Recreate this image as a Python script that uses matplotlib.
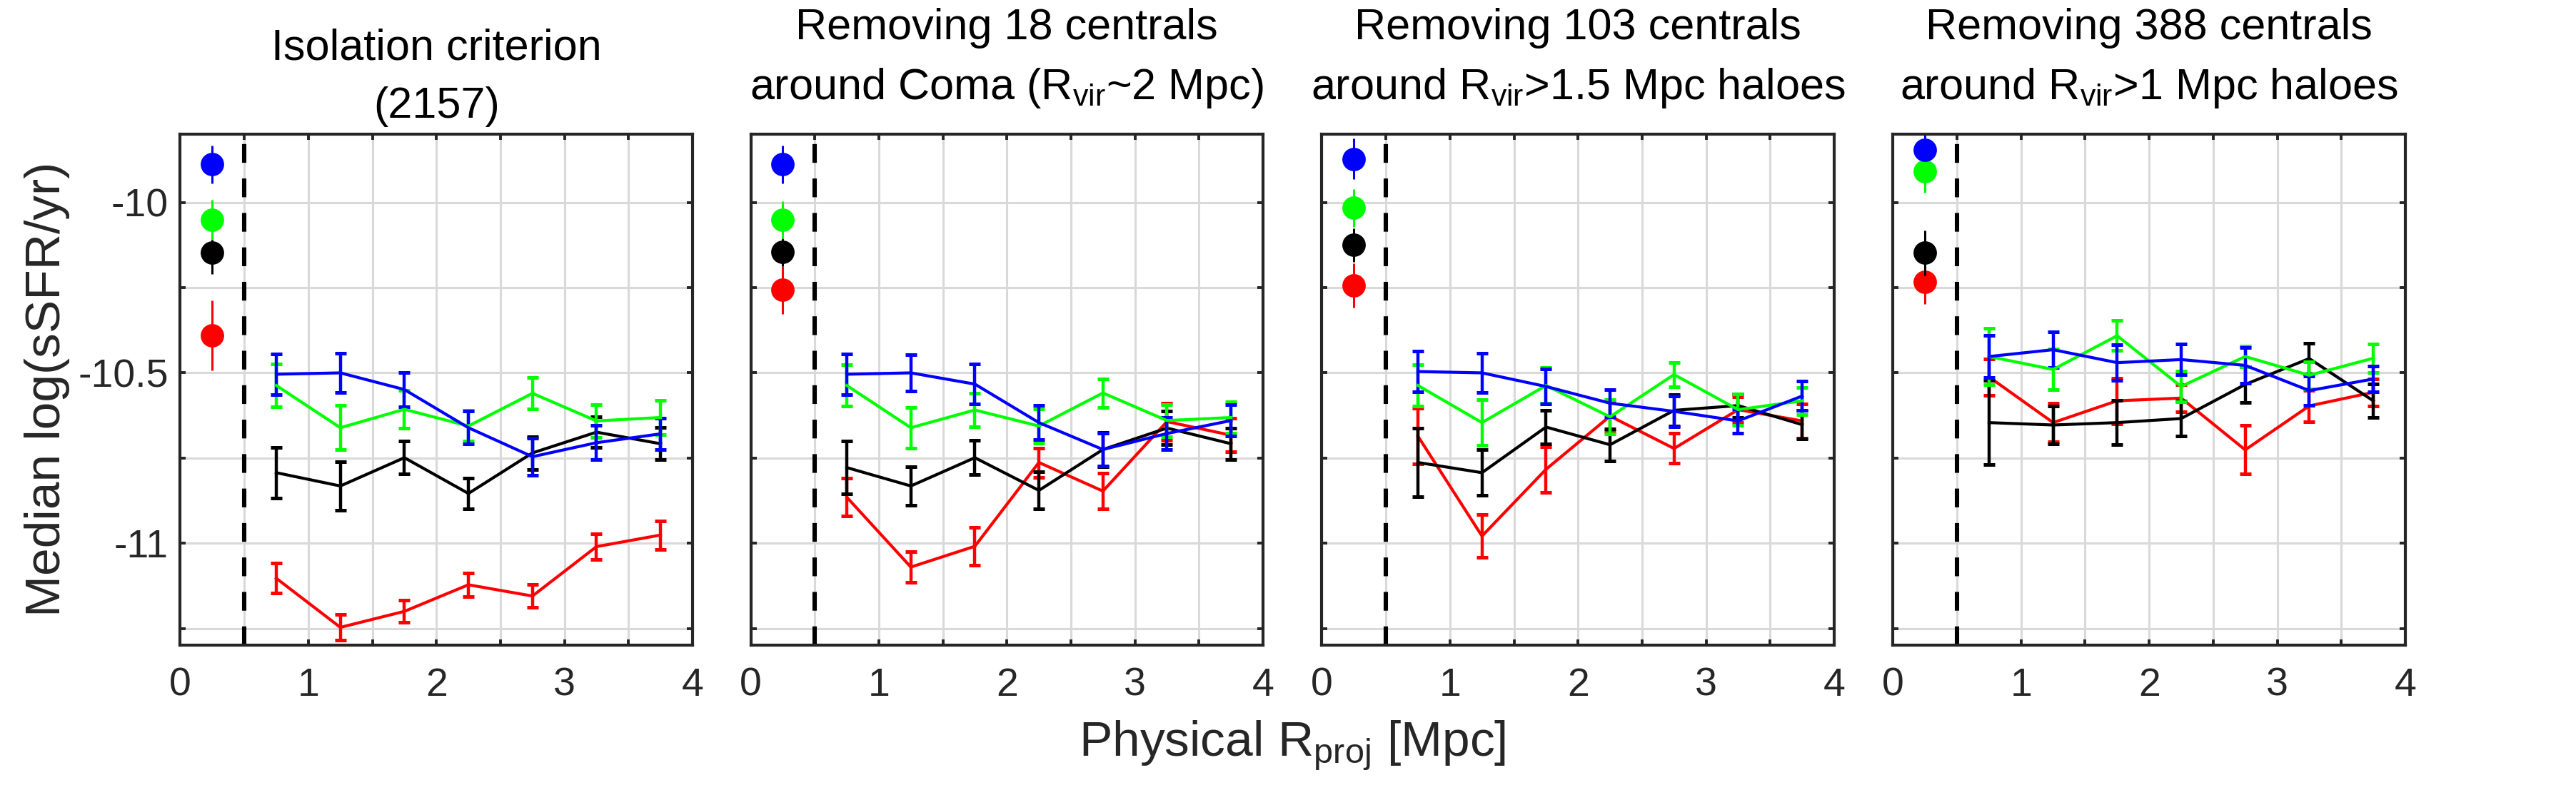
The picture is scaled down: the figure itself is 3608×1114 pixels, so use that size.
import numpy as np
import matplotlib
matplotlib.use("Agg")
import matplotlib.pyplot as plt
from matplotlib.ticker import FixedLocator, FuncFormatter

plt.rcParams['font.family'] = ['Liberation Sans', 'DejaVu Sans']
plt.rcParams['mathtext.fontset'] = 'custom'
plt.rcParams['mathtext.rm'] = 'Liberation Sans'
plt.rcParams['mathtext.it'] = 'Liberation Sans:italic'
plt.rcParams['axes.unicode_minus'] = False

# radial bins (Mpc) and the single point for the central galaxy
r_bins = [0.75, 1.25, 1.75, 2.25, 2.75, 3.25, 3.75]
r_central = 0.25
r_cut = 0.5

colours = ['red', 'black', '#00ff00', 'blue']
series = ['red', 'black', 'green', 'blue']

titles = [
    ("Isolation criterion", "(2157)"),
    ("Removing 18 centrals", r"around Coma (R$_{\mathrm{vir}}$~2 Mpc)"),
    ("Removing 103 centrals", r"around R$_{\mathrm{vir}}$>1.5 Mpc haloes"),
    ("Removing 388 centrals", r"around R$_{\mathrm{vir}}$>1 Mpc haloes"),
]

# central point value / error per panel, keyed by series
central_y = {
    'blue':  [-9.888, -9.888, -9.872, -9.846],
    'green': [-10.051, -10.051, -10.016, -9.908],
    'black': [-10.148, -10.146, -10.125, -10.148],
    'red':   [-10.390, -10.257, -10.244, -10.232],
}
central_err = {
    'blue':  [0.056, 0.055, 0.06, 0.047],
    'green': [0.059, 0.055, 0.055, 0.063],
    'black': [0.061, 0.04, 0.05, 0.066],
    'red':   [0.102, 0.07, 0.065, 0.066],
}

# satellite medians per panel
med_p1 = {
    'blue':  [-10.504, -10.500, -10.549, -10.661, -10.746, -10.705, -10.679],
    'green': [-10.537, -10.661, -10.607, -10.656, -10.560, -10.641, -10.631],
    'black': [-10.793, -10.832, -10.749, -10.854, -10.735, -10.674, -10.708],
    'red':   [-11.103, -11.247, -11.200, -11.122, -11.155, -11.010, -10.976],
}
err_p1 = {
    'blue':  [0.06, 0.057, 0.05, 0.048, 0.054, 0.05, 0.046],
    'green': [0.063, 0.065, 0.055, 0.045, 0.046, 0.048, 0.05],
    'black': [0.074, 0.072, 0.048, 0.046, 0.048, 0.045, 0.047],
    'red':   [0.044, 0.037, 0.032, 0.035, 0.034, 0.037, 0.042],
}
med_p2 = {
    'blue':  [-10.504, -10.500, -10.533, -10.646, -10.725, -10.678, -10.640],
    'green': [-10.537, -10.661, -10.609, -10.656, -10.559, -10.640, -10.631],
    'black': [-10.778, -10.832, -10.749, -10.845, -10.725, -10.662, -10.708],
    'red':   [-10.865, -11.070, -11.009, -10.763, -10.847, -10.643, -10.683],
}
err_p2 = {
    'blue':  [0.06, 0.054, 0.059, 0.05, 0.048, 0.047, 0.046],
    'green': [0.06, 0.06, 0.05, 0.05, 0.042, 0.047, 0.046],
    'black': [0.078, 0.056, 0.05, 0.054, 0.05, 0.049, 0.046],
    'red':   [0.056, 0.045, 0.055, 0.043, 0.052, 0.054, 0.049],
}
med_p3 = {
    'blue':  [-10.496, -10.500, -10.540, -10.589, -10.613, -10.641, -10.568],
    'green': [-10.537, -10.646, -10.537, -10.629, -10.505, -10.608, -10.582],
    'black': [-10.763, -10.793, -10.659, -10.711, -10.610, -10.596, -10.652],
    'red':   [-10.686, -10.979, -10.783, -10.627, -10.722, -10.608, -10.641],
}
err_p3 = {
    'blue':  [0.06, 0.057, 0.051, 0.04, 0.045, 0.036, 0.043],
    'green': [0.06, 0.067, 0.052, 0.05, 0.035, 0.046, 0.04],
    'black': [0.1, 0.067, 0.05, 0.047, 0.047, 0.035, 0.042],
    'red':   [0.082, 0.063, 0.067, 0.045, 0.044, 0.038, 0.05],
}
med_p4 = {
    'blue':  [-10.452, -10.432, -10.470, -10.461, -10.478, -10.552, -10.518],
    'green': [-10.452, -10.490, -10.391, -10.540, -10.452, -10.507, -10.457],
    'black': [-10.646, -10.653, -10.646, -10.634, -10.534, -10.458, -10.582],
    'red':   [-10.512, -10.646, -10.582, -10.574, -10.726, -10.597, -10.557],
}
err_p4 = {
    'blue':  [0.062, 0.052, 0.052, 0.045, 0.052, 0.043, 0.037],
    'green': [0.083, 0.06, 0.044, 0.045, 0.03, 0.04, 0.041],
    'black': [0.124, 0.056, 0.065, 0.052, 0.052, 0.045, 0.05],
    'red':   [0.053, 0.057, 0.067, 0.04, 0.071, 0.046, 0.04],
}
medians = [med_p1, med_p2, med_p3, med_p4]
errors = [err_p1, err_p2, err_p3, err_p4]

fig = plt.figure(figsize=(18.04, 5.57), dpi=200)
lefts = [0.06998, 0.29144, 0.51316, 0.73487]
axw, axb, axh = 0.19886, 0.18815, 0.64282
axcol = '#262626'

def xfmt(v, pos):
    return '%d' % round(v) if abs(v - round(v)) < 1e-6 else ''

def yfmt(v, pos):
    return '%g' % v if abs(v * 2 - round(v * 2)) < 1e-6 else ''

for i in range(4):
    ax = fig.add_axes([lefts[i], axb, axw, axh])
    ax.set_xlim(0, 4)
    ax.set_ylim(-11.3, -9.8)
    ax.xaxis.set_major_locator(FixedLocator(np.arange(0, 4.01, 0.5)))
    ax.yaxis.set_major_locator(FixedLocator(np.arange(-11.25, -9.99, 0.25)))
    ax.xaxis.set_major_formatter(FuncFormatter(xfmt))
    if i == 0:
        ax.yaxis.set_major_formatter(FuncFormatter(yfmt))
    else:
        ax.yaxis.set_major_formatter(FuncFormatter(lambda v, p: ''))
    ax.grid(True, color='#d9d9d9', lw=1.1, zorder=0)
    ax.set_axisbelow(True)
    ax.tick_params(direction='in', length=3, width=1.4, colors=axcol,
                   top=True, right=True, labelsize=20)
    ax.tick_params(axis='x', pad=11)
    ax.tick_params(axis='y', pad=6)
    for s in ax.spines.values():
        s.set_linewidth(1.5)
        s.set_color(axcol)
        s.set_zorder(5)

    ax.axvline(r_cut, color='black', lw=2.2, linestyle=(0, (4.3, 3.6)), zorder=1.5)

    for k, (name, col) in enumerate(zip(series, colours)):
        z = 2 + 0.1 * k
        ax.errorbar(r_bins, medians[i][name], yerr=errors[i][name], color=col,
                    lw=1.5, elinewidth=1.6, capsize=3, capthick=1.8, zorder=z)
        ax.errorbar([r_central], [central_y[name][i]], yerr=[central_err[name][i]],
                    fmt='o', ms=10.8, color=col, elinewidth=1.1, capsize=0, zorder=z)

    l1, l2 = titles[i]
    if '$' in l2:
        y1, y2 = 1.1856, 1.0695
    else:
        y1, y2 = 1.1457, 1.0325
    ax.text(0.5, y1, l1, transform=ax.transAxes, ha='center', va='baseline', fontsize=22)
    ax.text(0.5, y2, l2, transform=ax.transAxes, ha='center', va='baseline', fontsize=22)

fig.text(0.0183, 0.5108, 'Median log(sSFR/yr)', rotation=90, ha='center', va='center',
         fontsize=25, color=axcol)
fig.text(0.5017, 0.0494, r'Physical R$_{\mathrm{proj}}$ [Mpc]', ha='center', va='baseline',
         fontsize=25, color=axcol)

fig.savefig('out.png', dpi=200)
